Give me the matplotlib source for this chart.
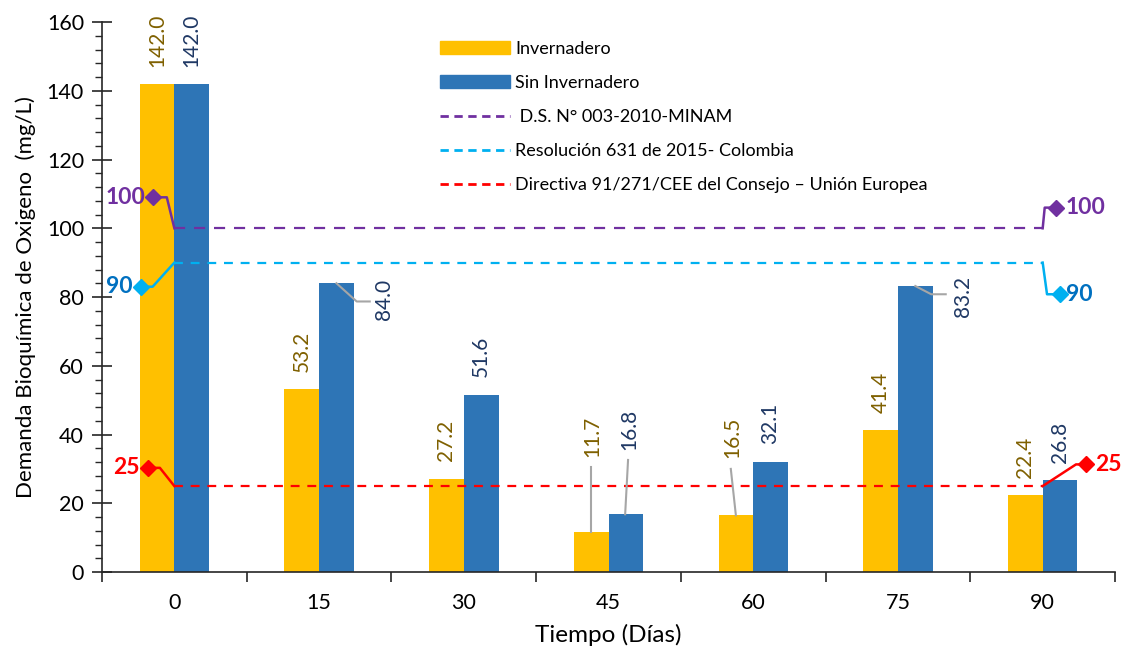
import matplotlib
matplotlib.use("Agg")
import matplotlib.pyplot as plt
from matplotlib.ticker import MultipleLocator, FixedLocator, NullFormatter
from matplotlib.patches import Patch
from matplotlib.lines import Line2D

plt.rcParams['font.family'] = ['Lato', 'DejaVu Sans']

# ---- data ----
dias = ["0", "15", "30", "45", "60", "75", "90"]
invernadero = [142.0, 53.2, 27.2, 11.7, 16.5, 41.4, 22.4]
sin_invernadero = [142.0, 84.0, 51.6, 16.8, 32.1, 83.2, 26.8]
limites = [100, 90, 25]
limite_nombres = [" D.S. N° 003-2010-MINAM", "Resolución 631 de 2015- Colombia",
                  "Directiva 91/271/CEE del Consejo – Unión Europea"]
limite_colores = ["#7030A0", "#00B0F0", "#FF0000"]
limite_texto_col = ["#7030A0", "#0070C0", "#FF0000"]

c_inv = "#FFC000"
c_sin = "#2E75B6"
t_inv = "#7F6000"
t_sin = "#1F3864"

fig = plt.figure(figsize=(11.22, 6.55), dpi=100)
ax = fig.add_axes([0.0909, 0.1267, 0.9029, 0.8397])

n = len(dias)
x = list(range(n))
w = 0.24
ax.bar([i - w / 2 for i in x], invernadero, width=w, color=c_inv, label="Invernadero", zorder=2)
ax.bar([i + w / 2 for i in x], sin_invernadero, width=w, color=c_sin, label="Sin Invernadero", zorder=2)

dash_styles = [(0, (5, 4)), (0, (4, 3.5)), (0, (4, 3.5))]
for lim, col, ds in zip(limites, limite_colores, dash_styles):
    ax.plot([0, n - 1], [lim, lim], color=col, lw=1.6, linestyle=ds, zorder=3)

# leader lines with diamond end labels for limit series
left_lead = {100: ((-0.148, 109), (-0.052, 109), -0.197),
             90: ((-0.23, 83), (-0.15, 83), -0.286),
             25: ((-0.18, 30.3), (-0.10, 30.3), -0.238)}
right_lead = {100: ((6.095, 106), [(6.014, 106), (6.05, 106)], 6.155),
              90: ((6.12, 80.8), [(6.03, 80.8)], 6.16),
              25: ((6.30, 31.3), [(6.23, 31.3)], 6.36)}
for lim, col, tcol in zip(limites, limite_colores, limite_texto_col):
    (dx, dy), (ex, ey), tx = left_lead[lim]
    ax.plot([0, ex, dx], [lim, ey, dy], color=col, lw=1.8, zorder=4, clip_on=False)
    ax.plot([dx], [dy], marker='D', color=col, markersize=8, zorder=5, clip_on=False)
    ax.text(tx, dy, str(lim), color=tcol, fontsize=16.5, fontweight='bold',
            ha='right', va='center', zorder=6)
    (dx, dy), elbows, tx = right_lead[lim]
    xs = [n - 1] + [e[0] for e in elbows] + [dx]
    ys = [lim] + [e[1] for e in elbows] + [dy]
    ax.plot(xs, ys, color=col, lw=1.8, zorder=4, clip_on=False)
    ax.plot([dx], [dy], marker='D', color=col, markersize=8, zorder=5, clip_on=False)
    ax.text(tx, dy, str(lim), color=tcol, fontsize=16.5, fontweight='bold',
            ha='left', va='center', zorder=6)

# value labels
lead_col = "#A6A6A6"
special_inv = {3: (3 - 0.114, 33.5, [(3 - 0.12, 30.6), (3 - 0.12, 11.7)]),
               4: (4 - 0.148, 33.2, [(4 - 0.155, 30.0), (4 - 0.12, 16.5)])}
special_sin = {1: (1.45, 79.3, [(1.12, 84.0), (1.26, 78.7), (1.35, 78.7)], 'center'),
               3: (3.14, 35.6, [(3.135, 32.6), (3.115, 16.8)], 'bottom'),
               5: (5.45, 80.2, [(5.12, 83.2), (5.23, 80.8), (5.33, 80.8)], 'center')}
for i, v in enumerate(invernadero):
    if i in special_inv:
        tx, ty, pts = special_inv[i]
        ax.plot([p[0] for p in pts], [p[1] for p in pts], color=lead_col, lw=1.5, zorder=4)
        ax.text(tx, ty, f"{v:.1f}", rotation=90, ha='center', va='bottom',
                color=t_inv, fontsize=15)
    else:
        ax.text(i - w / 2, v + 5, f"{v:.1f}", rotation=90, ha='center', va='bottom',
                color=t_inv, fontsize=15)
for i, v in enumerate(sin_invernadero):
    if i in special_sin:
        tx, ty, pts, va = special_sin[i]
        ax.plot([p[0] for p in pts], [p[1] for p in pts], color=lead_col, lw=1.5, zorder=4)
        ax.text(tx, ty, f"{v:.1f}", rotation=90, ha='center', va=va,
                color=t_sin, fontsize=15)
    else:
        ax.text(i + w / 2, v + 5, f"{v:.1f}", rotation=90, ha='center', va='bottom',
                color=t_sin, fontsize=15)

# axes styling
ax.set_xlim(-0.5, n - 0.5)
ax.set_ylim(0, 160)
for s in ['top', 'right']:
    ax.spines[s].set_visible(False)
for s in ['left', 'bottom']:
    ax.spines[s].set_color('#262626')
    ax.spines[s].set_linewidth(1.2)

ax.xaxis.set_major_locator(FixedLocator([i + 0.5 for i in range(-1, n)]))
ax.xaxis.set_major_formatter(NullFormatter())
ax.xaxis.set_minor_locator(FixedLocator(x))
ax.set_xticklabels(dias, minor=True)
ax.tick_params(axis='x', which='major', direction='out', length=7, width=1.2, color='#262626')
ax.tick_params(axis='x', which='minor', length=0, pad=15, labelsize=15.5)

ax.yaxis.set_major_locator(MultipleLocator(20))
ax.yaxis.set_minor_locator(MultipleLocator(4))
ax.tick_params(axis='y', which='major', direction='inout', length=14, width=1.2,
               color='#262626', labelsize=15.5, pad=6)
ax.tick_params(axis='y', which='minor', direction='out', length=5, width=1.0, color='#262626')

ax.set_xlabel("Tiempo (Días)", fontsize=17.5, labelpad=8)
ax.set_ylabel("Demanda Bioquímica de Oxigeno  (mg/L)", fontsize=16, labelpad=8)

handles = [Patch(color=c_inv), Patch(color=c_sin)] + [
    Line2D([0], [0], color=c, lw=2, linestyle=(0, (3, 2))) for c in limite_colores]
labels = ["Invernadero", "Sin Invernadero"] + limite_nombres
leg = ax.legend(handles, labels, loc='upper left', bbox_to_anchor=(0.318, 0.995),
                frameon=False, fontsize=13, handlelength=3.85, handleheight=0.72,
                labelspacing=1.0, handletextpad=0.3)

fig.savefig("out.png", dpi=100)
